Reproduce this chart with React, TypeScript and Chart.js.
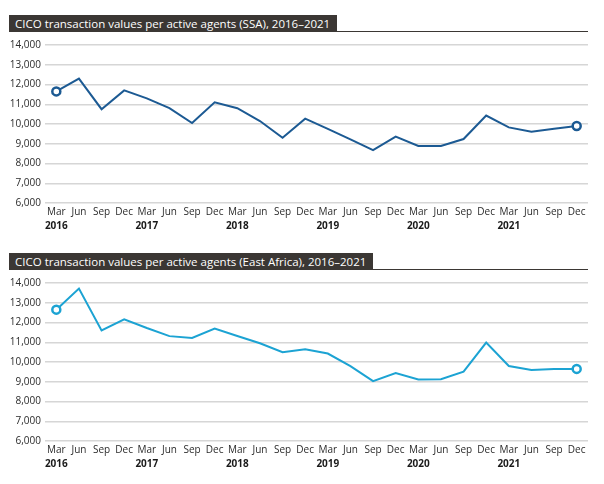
import React, { useEffect, useRef } from "react";
import { Chart, registerables } from "chart.js";

Chart.register(...registerables);

const monthLabels = [
  "Mar", "Jun", "Sep", "Dec", "Mar", "Jun", "Sep", "Dec",
  "Mar", "Jun", "Sep", "Dec", "Mar", "Jun", "Sep", "Dec",
  "Mar", "Jun", "Sep", "Dec", "Mar", "Jun", "Sep", "Dec",
];
const yearLabels = ["2016", "2017", "2018", "2019", "2020", "2021"];

const ssaValues = [
  11650, 12300, 10750, 11700, 11300, 10800, 10050, 11100,
  10800, 10150, 9300, 10270, 9750, 9220, 8680, 9360,
  8890, 8890, 9240, 10430, 9830, 9610, 9760, 9900,
];
const eastAfricaValues = [
  12650, 13720, 11600, 12160, 11720, 11310, 11220, 11690,
  11320, 10950, 10500, 10650, 10430, 9790, 9030, 9440,
  9120, 9130, 9510, 10980, 9800, 9590, 9640, 9650,
];

const titleSSA = "CICO transaction values per active agents (SSA), 2016\u20132021";
const titleEA = "CICO transaction values per active agents (East Africa), 2016\u20132021";

const FONT = "'Open Sans', sans-serif";

function LineChart({ values, color }: { values: number[]; color: string }) {
  const ref = useRef<HTMLCanvasElement | null>(null);
  useEffect(() => {
    if (!ref.current) return;
    const last = values.length - 1;
    const chart = new Chart(ref.current, {
      type: "line",
      data: {
        labels: monthLabels,
        datasets: [
          {
            data: values,
            borderColor: color,
            borderWidth: 2,
            tension: 0,
            pointRadius: (c: any) => (c.dataIndex === 0 || c.dataIndex === last ? 4 : 0),
            pointBorderWidth: 2.5,
            pointBackgroundColor: "#ffffff",
            pointBorderColor: color,
          },
        ],
      },
      options: {
        animation: false,
        responsive: false,
        maintainAspectRatio: false,
        layout: { padding: { top: 10, right: 16, bottom: 2, left: 0 } },
        plugins: { legend: { display: false }, tooltip: { enabled: false }, title: { display: false } },
        scales: {
          y: {
            min: 6000,
            max: 14000,
            border: { display: false },
            grid: { color: "#d6d6d6", lineWidth: 1.5, drawTicks: false },
            ticks: {
              stepSize: 1000,
              padding: 4,
              color: "#2b2b2b",
              font: { family: FONT, size: 10 },
              callback: (v: any) => Number(v).toLocaleString("en-US"),
            },
            afterFit: (s: any) => {
              s.width = 45;
            },
          },
          x: {
            type: "category",
            offset: true,
            weight: 0,
            border: { display: false },
            grid: { display: false, drawTicks: false },
            ticks: {
              autoSkip: false,
              maxRotation: 0,
              padding: 3,
              color: "#2b2b2b",
              font: { family: FONT, size: 10 },
            },
            afterFit: (s: any) => {
              s.height = 17;
            },
          },
          x2: {
            type: "category",
            position: "bottom",
            offset: true,
            weight: 1,
            border: { display: false },
            grid: { display: false, drawTicks: false },
            ticks: {
              autoSkip: false,
              maxRotation: 0,
              padding: 0,
              color: "#1a1a1a",
              font: { family: FONT, size: 10, weight: "bold" },
              callback: (_v: any, i: number) => (i % 4 === 0 ? yearLabels[i / 4] : ""),
            },
            afterFit: (s: any) => {
              s.height = 13;
            },
          },
        },
      } as any,
    });
    return () => chart.destroy();
  }, [values, color]);
  return <canvas ref={ref} width={604} height={200} style={{ display: "block", width: 604, height: 200 }} />;
}

function TitleBar({ text, top, width }: { text: string; top: number; width: number }) {
  return (
    <>
      <div
        style={{
          position: "absolute",
          left: 9,
          top,
          width,
          height: 17,
          background: "#3b3734",
          color: "#ffffff",
          fontFamily: FONT,
          fontSize: 11.5,
          lineHeight: "17px",
          paddingLeft: 6,
          boxSizing: "border-box",
          whiteSpace: "nowrap",
        }}
      >
        {text}
      </div>
      <div
        style={{
          position: "absolute",
          left: 9,
          top: top + 16,
          width: 579,
          height: 1,
          background: "#3b3734",
        }}
      />
    </>
  );
}

export default function App() {
  return (
    <div style={{ position: "absolute", left: 0, top: 0, width: 604, height: 484, background: "#ffffff" }}>
      <TitleBar text={titleSSA} top={15} width={328} />
      <div style={{ position: "absolute", left: 0, top: 35 }}>
        <LineChart values={ssaValues} color="#1c5a93" />
      </div>
      <TitleBar text={titleEA} top={253} width={364} />
      <div style={{ position: "absolute", left: 0, top: 273 }}>
        <LineChart values={eastAfricaValues} color="#1ca3d3" />
      </div>
    </div>
  );
}
